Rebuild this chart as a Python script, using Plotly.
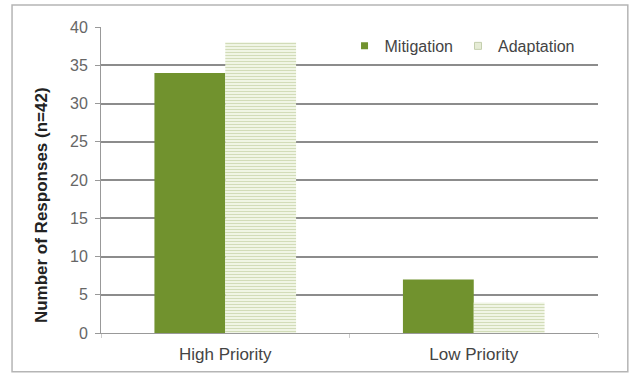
import plotly.graph_objects as go

categories = ["High Priority", "Low Priority"]
mitigation = [34, 7]
adaptation = [38, 4]
y_ticks = [0, 5, 10, 15, 20, 25, 30, 35, 40]

GREEN = "#71922e"

fig = go.Figure()
fig.add_trace(go.Bar(
    name="Mitigation", x=categories, y=mitigation, showlegend=False,
    marker=dict(color=GREEN, line=dict(width=0)),
))
fig.add_trace(go.Bar(
    name="Adaptation", x=categories, y=adaptation, showlegend=False,
    marker=dict(color="#f2f6e6", line=dict(width=0),
                pattern=dict(shape="-", fgcolor="#aebf82", bgcolor="#f6f9ee",
                             size=3, solidity=0.45)),
))
# legend-only entries with small square keys
fig.add_trace(go.Scatter(
    name="Mitigation", x=[None], y=[None], mode="markers",
    marker=dict(symbol="square", size=7, color=GREEN),
))
fig.add_trace(go.Scatter(
    name="Adaptation", x=[None], y=[None], mode="markers",
    marker=dict(symbol="square", size=7, color="#e6ecd6",
                line=dict(color="#c4cfae", width=1)),
))

fig.update_layout(
    width=631, height=376,
    margin=dict(l=101, r=33, t=27, b=43, autoexpand=False),
    paper_bgcolor="white", plot_bgcolor="white",
    barmode="group", bargap=0.43, bargroupgap=0,
    font=dict(family="Liberation Sans, Arial, sans-serif", size=13, color="#555555"),
    showlegend=True,
    legend=dict(orientation="h", x=0.49, y=0.938, xanchor="left", yanchor="middle",
                bgcolor="rgba(0,0,0,0)", font=dict(size=16, color="#444444"),
                itemwidth=30, traceorder="normal", tracegroupgap=0),
    xaxis=dict(showgrid=False, showline=True, linecolor="#999999", linewidth=1,
               ticks="outside", tickson="boundaries", ticklen=4, tickcolor="#cccccc",
               ticklabelstandoff=6,
               automargin=False, tickfont=dict(size=17, color="#444444")),
    yaxis=dict(range=[0, 40], tickvals=y_ticks, showgrid=True, gridcolor="#8c8c8c",
               gridwidth=1.5, showline=True, linecolor="#999999", linewidth=1,
               ticks="outside", ticklen=5, tickcolor="#999999", automargin=False,
               ticklabelstandoff=4,
               tickfont=dict(size=16, color="#666666"),
               zeroline=False),
    annotations=[dict(text="<b>Number of Responses (n=42)</b>", textangle=-90,
                      xref="paper", yref="paper", x=-0.1207, y=0.418,
                      xanchor="center", yanchor="middle", showarrow=False,
                      font=dict(size=17, color="#222222"))],
    shapes=[dict(type="rect", xref="paper", yref="paper",
                 x0=-0.179, x1=1.060, y0=-0.127, y1=1.072,
                 line=dict(color="#b5b5b5", width=1.5))],
)

fig.write_html("out.html", post_script="document.body.style.margin='0';",
               config={"displayModeBar": False})
